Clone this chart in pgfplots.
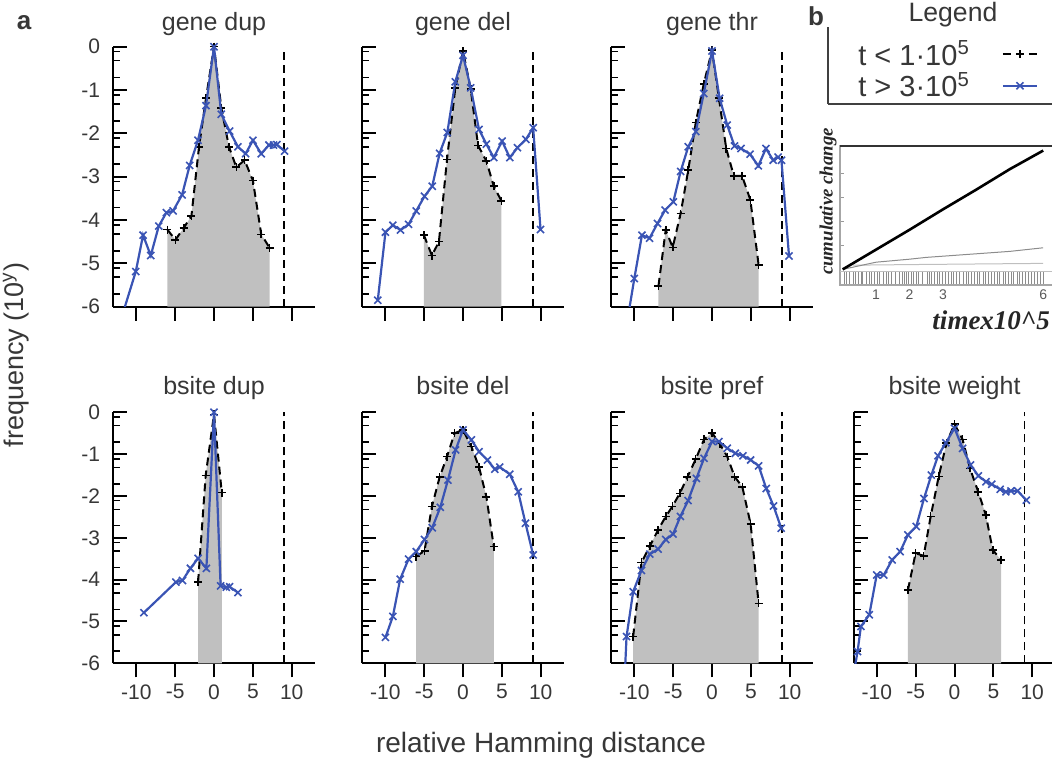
\documentclass[border=0pt]{standalone}
\usepackage{pgfplots}
\pgfplotsset{compat=1.18}
\usepackage{fontspec}
\setmainfont{Liberation Sans}
\newfontfamily\serifbi{Liberation Serif}

\definecolor{lineblue}{RGB}{58,84,180}
\definecolor{shade}{RGB}{192,192,192}
\definecolor{txt}{RGB}{55,55,55}

\pgfplotsset{
  panel/.style={
    scale only axis, width=101pt,
    xmin=-13, xmax=13, ymin=-6, ymax=0,
    axis lines=left, axis line style={-, line width=1pt},
    xtick={-10,-5,0,5,10}, xticklabels={},
    ytick={0,-1,-2,-3,-4,-5,-6}, yticklabels={},
    minor ytick={-0.11,-0.32,-0.71,-1.11,-1.32,-1.71,-2.11,-2.32,-2.71,-3.11,-3.32,-3.71,-4.11,-4.32,-4.71,-5.11,-5.32,-5.71},
    xtick align=outside, ytick align=inside,
    major tick length=7pt, minor tick length=3.5pt,
    tick style={black, line width=1pt},
    minor tick style={line width=0.8pt},
    clip mode=individual,
    title style={font=\fontsize{12.5}{14}\selectfont, text=txt, anchor=base, at={(0.5,1)}},
    tick label style={font=\fontsize{10.5}{12}\selectfont, text=txt},
    yticklabel style={xshift=-3pt},
  },
  toprow/.style={height=130pt, title style={yshift=1.9pt}},
  botrow/.style={height=125.5pt, title style={yshift=2.8pt}, xticklabels={-10,-5,0,5,10}},
  firstcol/.style={yticklabels={0,-1,-2,-3,-4,-5,-6}},
  blueser/.style={lineblue, line width=1.1pt, mark=x, mark size=2.5pt, mark options={line width=0.8pt}},
  blackser/.style={black, line width=1pt, dash pattern=on 4pt off 2.5pt, mark=+, mark size=2pt, mark options={solid, line width=0.8pt}},
  shadeser/.style={fill=shade, draw=none},
  cutoff/.style={black, line width=0.9pt, dash pattern=on 4pt off 2.5pt},
  clipseg/.style={lineblue, line width=1.1pt},
}

\begin{document}
\begin{tikzpicture}
\useasboundingbox (0,0) rectangle (526pt,381.5pt);

% ---------- gene dup
\begin{axis}[panel, toprow, firstcol, at={(56.5pt,228.15pt)}, anchor=south west, title={gene dup}]
\addplot[shadeser] coordinates {(-6,-6) (-6,-4.22) (-4.97,-4.46) (-3.9,-4.18) (-2.91,-3.91) (-1.93,-2.31) (-1.03,-1.19) (0,0) (0.94,-1.41) (1.93,-2.31) (2.87,-2.78) (3.94,-2.62) (5.01,-3.09) (6.08,-4.33) (7.15,-4.64) (7.15,-6)};
\addplot[cutoff] coordinates {(9,-6) (9,0)};
\addplot[blackser] coordinates {(-6,-4.22) (-4.97,-4.46) (-3.9,-4.18) (-2.91,-3.91) (-1.93,-2.31) (-1.03,-1.19) (0,0) (0.94,-1.41) (1.93,-2.31) (2.87,-2.78) (3.94,-2.62) (5.01,-3.09) (6.08,-4.33) (7.15,-4.64)};
\addplot[clipseg] coordinates {(-12,-6.31) (-10.07,-5.19)};
\addplot[blueser] coordinates {(-10.07,-5.19) (-9.13,-4.35) (-8.14,-4.82) (-7.11,-4.14) (-6.13,-3.83) (-5.27,-3.79) (-4.11,-3.42) (-3.13,-2.74) (-2.06,-2.16) (-1.03,-1.36) (0,0) (0.94,-1.56) (2.01,-1.95) (3.08,-2.31) (4.07,-2.47) (5.01,-2.16) (6.08,-2.47) (7.07,-2.27) (7.67,-2.27) (8.1,-2.26) (9.08,-2.41)};
\end{axis}

% ---------- gene del
\begin{axis}[panel, toprow, at={(181pt,228.15pt)}, anchor=south west, title={gene del}]
\addplot[shadeser] coordinates {(-5.03,-6) (-5.03,-4.35) (-4,-4.82) (-3.1,-4.5) (-2.06,-2.6) (-0.99,-0.95) (0,-0.1) (0.99,-0.98) (1.94,-2.28) (3.01,-2.64) (3.96,-3.22) (4.95,-3.56) (4.95,-6)};
\addplot[cutoff] coordinates {(9,-6) (9,0)};
\addplot[blackser] coordinates {(-5.03,-4.35) (-4,-4.82) (-3.1,-4.5) (-2.06,-2.6) (-0.99,-0.95) (0,-0.1) (0.99,-0.98) (1.94,-2.28) (3.01,-2.64) (3.96,-3.22) (4.95,-3.56)};
\addplot[blueser] coordinates {(-10.97,-5.85) (-9.98,-4.28) (-9.03,-4.12) (-8.04,-4.23) (-7.01,-4.1) (-6.02,-3.79) (-4.95,-3.45) (-3.96,-3.22) (-3.01,-2.46) (-2.02,-1.98) (-0.99,-0.81) (0,-0.2) (0.99,-0.95) (2.06,-1.91) (3.01,-2.25) (3.96,-2.56) (5.03,-2.18) (6.02,-2.56) (7.01,-2.33) (8.09,-2.14) (9.03,-1.87) (9.98,-4.22)};
\end{axis}

% ---------- gene thr
\begin{axis}[panel, toprow, at={(305.5pt,228.15pt)}, anchor=south west, title={gene thr}]
\addplot[shadeser] coordinates {(-6.89,-6) (-6.89,-5.52) (-5.96,-4.23) (-5.06,-4.63) (-4.04,-3.85) (-3.06,-2.85) (-2.09,-1.75) (-1.06,-0.86) (0,-0.08) (0.89,-1.19) (1.83,-2.35) (2.81,-2.98) (3.87,-2.98) (4.94,-3.54) (6,-5.04) (6,-6)};
\addplot[cutoff] coordinates {(9,-6) (9,0)};
\addplot[blackser] coordinates {(-6.89,-5.52) (-5.96,-4.23) (-5.06,-4.63) (-4.04,-3.85) (-3.06,-2.85) (-2.09,-1.75) (-1.06,-0.86) (0,-0.08) (0.89,-1.19) (1.83,-2.35) (2.81,-2.98) (3.87,-2.98) (4.94,-3.54) (6,-5.04)};
\addplot[clipseg] coordinates {(-11,-6.44) (-10,-5.35)};
\addplot[blueser] coordinates {(-10,-5.35) (-9.02,-4.35) (-8.04,-4.42) (-7.02,-4.08) (-6.04,-3.77) (-4.98,-3.58) (-4.04,-2.88) (-3.06,-2.31) (-2.09,-1.96) (-1.06,-1.08) (0,-0.1) (0.98,-1.19) (1.96,-1.81) (2.89,-2.29) (3.74,-2.35) (4.89,-2.48) (5.96,-2.75) (6.94,-2.35) (7.87,-2.62) (8.51,-2.55) (8.94,-2.62) (9.91,-4.83)};
\end{axis}

% ---------- bsite dup
\begin{axis}[panel, botrow, firstcol, at={(56.5pt,49.85pt)}, anchor=south west, title={bsite dup}]
\addplot[shadeser] coordinates {(-2.05,-6) (-2.05,-4.06) (-1.07,-1.51) (0,-0.05) (1.0,-1.92) (1.0,-6)};
\addplot[cutoff] coordinates {(9,-6) (9,0)};
\addplot[blackser] coordinates {(-2.05,-4.06) (-1.07,-1.51) (0,-0.05) (1.0,-1.92)};
\addplot[blueser] coordinates {(-9.02,-4.79) (-4.91,-4.06) (-4.06,-4.02) (-3.03,-3.73) (-2.05,-3.49) (-0.98,-3.73) (0,0) (0.85,-4.15) (1.58,-4.18) (2.01,-4.17) (3.08,-4.31)};
\end{axis}

% ---------- bsite del
\begin{axis}[panel, botrow, at={(181pt,49.85pt)}, anchor=south west, title={bsite del}]
\addplot[shadeser] coordinates {(-6.02,-6) (-6.02,-3.45) (-4.95,-3.31) (-4,-2.25) (-3.01,-1.55) (-2.06,-1.06) (-1.08,-0.5) (0,-0.42) (1.08,-0.82) (2.06,-1.31) (3.01,-2.02) (3.96,-3.21) (3.96,-6)};
\addplot[cutoff] coordinates {(9,-6) (9,0)};
\addplot[blackser] coordinates {(-6.02,-3.45) (-4.95,-3.31) (-4,-2.25) (-3.01,-1.55) (-2.06,-1.06) (-1.08,-0.5) (0,-0.42) (1.08,-0.82) (2.06,-1.31) (3.01,-2.02) (3.96,-3.21)};
\addplot[blueser] coordinates {(-9.98,-5.38) (-9.03,-4.88) (-8.09,-3.99) (-7.01,-3.51) (-6.02,-3.33) (-4.95,-3.04) (-3.96,-2.76) (-2.92,-2.27) (-1.94,-1.62) (-0.95,-0.9) (0,-0.42) (1.08,-0.66) (2.06,-0.94) (3.14,-1.14) (4.09,-1.36) (4.73,-1.31) (6.02,-1.48) (7.1,-1.9) (8.04,-2.65) (9.03,-3.41)};
\end{axis}

% ---------- bsite pref
\begin{axis}[panel, botrow, at={(305.5pt,49.85pt)}, anchor=south west, title={bsite pref}]
\addplot[shadeser] coordinates {(-10.15,-6) (-10.15,-5.36) (-9.08,-3.59) (-8,-3.2) (-6.94,-2.81) (-5.95,-2.49) (-5.1,-2.25) (-4.15,-1.94) (-3.17,-1.55) (-2.1,-1.12) (-1.03,-0.65) (0,-0.49) (0.99,-0.75) (1.97,-1.06) (2.91,-1.54) (3.9,-1.78) (4.97,-2.67) (6,-4.57) (6,-6)};
\addplot[cutoff] coordinates {(9,-6) (9,0)};
\addplot[blackser] coordinates {(-10.15,-5.36) (-9.08,-3.59) (-8,-3.2) (-6.94,-2.81) (-5.95,-2.49) (-5.1,-2.25) (-4.15,-1.94) (-3.17,-1.55) (-2.1,-1.12) (-1.03,-0.65) (0,-0.49) (0.99,-0.75) (1.97,-1.06) (2.91,-1.54) (3.9,-1.78) (4.97,-2.67) (6,-4.57)};
\addplot[clipseg] coordinates {(-11.4,-7.0) (-11.0,-5.36)};
\addplot[blueser] coordinates {(-11.0,-5.36) (-10.15,-4.29) (-9.08,-3.78) (-8.01,-3.39) (-6.94,-3.27) (-5.95,-3.04) (-5.01,-2.91) (-4.07,-2.49) (-3.08,-2.11) (-2.01,-1.58) (-1.03,-1.1) (0,-0.7) (0.9,-0.7) (1.97,-0.86) (3,-0.98) (3.98,-1.04) (4.97,-1.14) (6,-1.28) (6.98,-1.82) (7.92,-2.24) (8.91,-2.77)};
\end{axis}

% ---------- bsite weight
\begin{axis}[panel, botrow, at={(426.75pt,49.85pt)}, anchor=south west, title={bsite weight}]
\addplot[shadeser] coordinates {(-6,-6) (-6,-4.25) (-5.01,-3.37) (-3.97,-3.43) (-3.07,-2.49) (-2.03,-1.53) (-1.04,-0.74) (0,-0.28) (1.04,-0.65) (1.99,-1.34) (3.05,-1.9) (4.02,-2.45) (4.92,-3.29) (6,-3.53) (6,-6)};
\addplot[cutoff] coordinates {(9,-6) (9,0)};
\addplot[blackser] coordinates {(-6,-4.25) (-5.01,-3.37) (-3.97,-3.43) (-3.07,-2.49) (-2.03,-1.53) (-1.04,-0.74) (0,-0.28) (1.04,-0.65) (1.99,-1.34) (3.05,-1.9) (4.02,-2.45) (4.92,-3.29) (6,-3.53)};
\addplot[clipseg] coordinates {(-12.9,-6.17) (-12.48,-5.72)};
\addplot[blueser] coordinates {(-12.48,-5.72) (-12.05,-5.12) (-10.97,-4.84) (-10.02,-3.89) (-9.11,-3.89) (-8.03,-3.53) (-7,-3.33) (-6,-2.93) (-4.92,-2.73) (-3.93,-2.06) (-2.98,-1.5) (-2.12,-1.04) (-1.12,-0.73) (0,-0.38) (1.04,-0.86) (2.07,-1.26) (3.07,-1.52) (4.06,-1.66) (4.79,-1.72) (5.87,-1.84) (6.61,-1.9) (7.26,-1.88) (8.12,-1.88) (9.24,-2.1)};
\end{axis}

% ---------- legend (panel b)
\begin{axis}[at={(414pt,329.5pt)}, anchor=south west, scale only axis,
  width=112pt, height=38.5pt, xmin=0, xmax=1, ymin=0, ymax=1,
  axis lines=left, axis line style={-, line width=0.8pt, black!75},
  xtick=\empty, ytick=\empty,
  title={Legend}, title style={font=\fontsize{13.3}{15}\selectfont, text=txt, at={(0.558,1)}, anchor=base, yshift=-3.5pt},
  legend plot pos=right, legend cell align=left,
  legend style={draw=none, fill=none, at={(0.098,0.44)}, anchor=west,
    font=\fontsize{14.5}{16}\selectfont, text=txt, row sep=0pt, column sep=15pt,
    nodes={inner sep=1pt}}]
\addlegendimage{blackser}
\addlegendentry{t < 1·10\textsuperscript{5}}
\addlegendimage{blueser}
\addlegendentry{t > 3·10\textsuperscript{5}}
\end{axis}

% ---------- inset (panel b)
\begin{axis}[at={(420pt,239pt)}, anchor=south west, scale only axis,
  width=106.6pt, height=69.6pt, xmin=-0.08, xmax=6.3, ymin=-0.13, ymax=1.03,
  axis line style={black!35, line width=0.6pt},
  xtick={1,2,3,6}, xticklabels={1,2,3,6}, xtick style={draw=none},
  ytick={0.2,0.4,0.6,0.8}, yticklabels={}, ytick style={black!40}, ytick pos=left,
  major tick length=2pt, ytick align=inside,
  tick label style={font=\fontsize{7}{8}\selectfont, text=black!65},
  xticklabel style={yshift=1pt},
  ylabel={\serifbi\bfseries\itshape cumulative change},
  ylabel style={at={(axis description cs:-0.056,0.6)}, anchor=center, font=\fontsize{9.4}{10}\selectfont, text=black!85},
  xlabel={\serifbi\bfseries\itshape timex10\textasciicircum 5},
  xlabel style={at={(axis description cs:0.709,-0.252)}, anchor=center, font=\fontsize{13.5}{15}\selectfont, text=black!85},
  clip mode=individual]
\addplot[black!80, line width=0.9pt] coordinates {(-0.08,1.03) (6.3,1.03)};
\addplot[black!25, line width=0.4pt] coordinates {(-0.08,-0.02) (6.3,-0.02)};
\addplot[only marks, mark=|, mark size=2.9pt, mark options={black!45, line width=0.4pt}] coordinates {
 (0.05,-0.07) (0.12,-0.07) (0.2,-0.07) (0.31,-0.07) (0.38,-0.07) (0.47,-0.07) (0.55,-0.07) (0.6,-0.07)
 (0.72,-0.07) (0.8,-0.07) (0.86,-0.07) (0.95,-0.07) (1.05,-0.07) (1.1,-0.07) (1.22,-0.07) (1.3,-0.07)
 (1.36,-0.07) (1.45,-0.07) (1.58,-0.07) (1.7,-0.07) (1.78,-0.07) (1.85,-0.07) (1.9,-0.07) (1.97,-0.07)
 (2.05,-0.07) (2.12,-0.07) (2.2,-0.07) (2.28,-0.07) (2.4,-0.07) (2.52,-0.07) (2.6,-0.07) (2.66,-0.07)
 (2.75,-0.07) (2.83,-0.07) (2.9,-0.07) (2.97,-0.07) (3.06,-0.07) (3.15,-0.07) (3.25,-0.07) (3.32,-0.07)
 (3.4,-0.07) (3.5,-0.07) (3.62,-0.07) (3.7,-0.07) (3.77,-0.07) (3.85,-0.07) (3.95,-0.07) (4.02,-0.07)
 (4.1,-0.07) (4.2,-0.07) (4.28,-0.07) (4.35,-0.07) (4.45,-0.07) (4.55,-0.07) (4.62,-0.07) (4.7,-0.07)
 (4.8,-0.07) (4.88,-0.07) (4.95,-0.07) (5.05,-0.07) (5.12,-0.07) (5.22,-0.07) (5.3,-0.07) (5.38,-0.07)
 (5.48,-0.07) (5.57,-0.07) (5.65,-0.07) (5.75,-0.07) (5.82,-0.07) (5.92,-0.07) (6.0,-0.07)};
\addplot[black!25, line width=0.5pt] coordinates {(0.3,0.035) (2,0.04) (4,0.045) (6,0.05)};
\addplot[black!45, line width=0.5pt] coordinates {(0,0) (0.5,0.03) (1,0.06) (2,0.085) (2.5,0.1) (4,0.13) (5,0.15) (6,0.18)};
\addplot[black, line width=1.3pt] coordinates {(0,0) (1,0.165) (2,0.33) (3,0.5) (4,0.665) (5,0.835) (6,0.99)};
\end{axis}

% ---------- shared labels
\node[font=\fontsize{13}{15}\selectfont\bfseries, text=txt] at (12pt,370pt) {a};
\node[font=\fontsize{13}{15}\selectfont\bfseries, text=txt] at (408pt,373.5pt) {b};
\node[rotate=90, font=\fontsize{13.5}{16}\selectfont, text=txt] at (8pt,204pt) {frequency (10\textsuperscript{y})};
\node[font=\fontsize{14}{16}\selectfont, text=txt] at (270.5pt,9pt) {relative Hamming distance};
\end{tikzpicture}
\end{document}
